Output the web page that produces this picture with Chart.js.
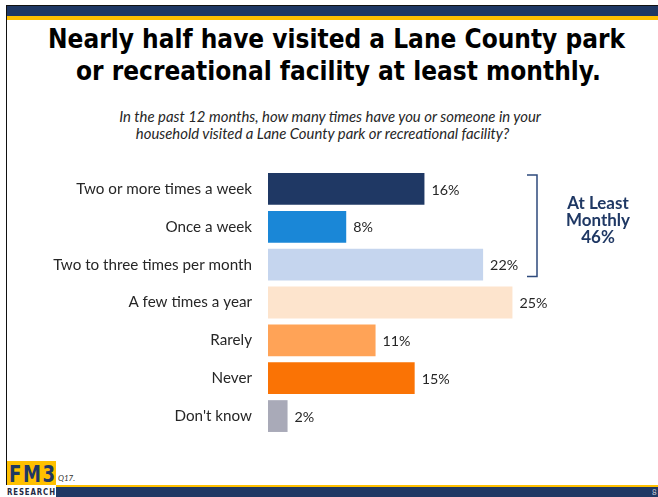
<!DOCTYPE html>
<html>
<head>
<meta charset="utf-8">
<script src="https://cdn.jsdelivr.net/npm/chart.js@4.4.1/dist/chart.umd.min.js"></script>
<style>
  body { margin: 0; background: #fff; }
  #slide { position: relative; width: 658px; height: 497px; overflow: hidden; background: #fff; }
  .box { position: absolute; }
  .txt { position: absolute; white-space: nowrap; line-height: 0; height: 0; transform-origin: 0 0; }
  #chartBox { position: absolute; left: 0; top: 150px; width: 658px; height: 300px; }
</style>
</head>
<body>
<div id="slide">
  <div class="box" style="left:6px;top:5px;width:652px;height:1px;background:#111"></div>
  <div class="box" style="left:7px;top:6px;width:651px;height:10px;background:#1F3864"></div>
  <div class="box" style="left:7px;top:16px;width:651px;height:4px;background:#FFC000"></div>
  <div class="box" style="left:6px;top:5px;width:1px;height:480px;background:#111"></div>

  <div class="txt" id="title1"></div>
  <div class="txt" id="title2"></div>
  <div class="txt" id="sub1"></div>
  <div class="txt" id="sub2"></div>

  <div id="chartBox"><canvas id="chart"></canvas></div>

  <div class="box" style="left:7px;top:461px;width:49px;height:24px;background:#FFC000"></div>
  <div class="txt" id="logo"></div>
  <div class="txt" id="research"></div>
  <div class="txt" id="qnum"></div>
  <div class="box" style="left:56px;top:485px;width:602px;height:2px;background:#FFC000"></div>
  <div class="box" style="left:56px;top:487px;width:602px;height:10px;background:#1F3864"></div>
  <div class="txt" id="pagenum"></div>
</div>
<script>
const TITLE_LINES = ['Nearly half have visited a Lane County park', 'or recreational facility at least monthly.'];
const QUESTION_LINES = ['In the past 12 months, how many times have you or someone in your',
  'household visited a Lane County park or recreational facility?'];
const CATEGORIES = ['Two or more times a week', 'Once a week', 'Two to three times per month',
  'A few times a year', 'Rarely', 'Never', "Don't know"];
const PERCENTS = [16, 8, 22, 25, 11, 15, 2];
const MONTHLY_ROWS = [0, 1, 2];
const MONTHLY_LINES = ['At Least', 'Monthly'];

const BAR_COLORS = ['#1F3864', '#1A87D7', '#C5D5EE', '#FDE4CD', '#FFA357', '#FA7305', '#A9AAB8'];
const NAVY = '#1F3864';
const TEXT = '#262626';
const BODY_FONT = 'Lato, "Open Sans", sans-serif';

const mctx = document.createElement('canvas').getContext('2d');
function measure(text, font) {
  mctx.font = font;
  return mctx.measureText(text);
}
// font size that makes text span the given width
function fitSize(text, prefix, family, width) {
  return 100 * width / measure(text, `${prefix} 100px ${family}`).width;
}
// put a text line so its baseline sits at y, centred on cx (or left at x0), optional horizontal squeeze
function placeText(id, text, font, opts) {
  const el = document.getElementById(id);
  el.textContent = text;
  el.style.font = font;
  el.style.lineHeight = '0';
  if (opts.color) el.style.color = opts.color;
  if (opts.spacing) el.style.letterSpacing = opts.spacing + 'px';
  const m = measure(text, font);
  const natural = m.width + (opts.spacing || 0) * (text.length - 1);
  const sx = opts.width ? opts.width / natural : (opts.scale || 1);
  const w = natural * sx;
  const left = opts.cx !== undefined ? opts.cx - w / 2 : opts.x0;
  el.style.left = left + 'px';
  el.style.top = (opts.baseline - (m.fontBoundingBoxAscent - m.fontBoundingBoxDescent) / 2) + 'px';
  el.style.transform = `scaleX(${sx})`;
}

// title, squeezed to the reference width
const titleFont = 'bold 26px "DejaVu Sans"';
const titleScale = 577 / measure(TITLE_LINES[0], titleFont).width;
placeText('title1', TITLE_LINES[0], titleFont, {cx: 336, baseline: 48, scale: titleScale, color: '#000'});
placeText('title2', TITLE_LINES[1], titleFont, {cx: 338, baseline: 80, scale: titleScale, color: '#000'});

const subSize = fitSize(QUESTION_LINES[0], 'italic', BODY_FONT, 424);
const subFont = `italic ${subSize}px ${BODY_FONT}`;
placeText('sub1', QUESTION_LINES[0], subFont, {cx: 331, baseline: 122, color: TEXT});
placeText('sub2', QUESTION_LINES[1], subFont, {cx: 323, baseline: 139, color: TEXT});

placeText('logo', 'FM3', 'bold 23px "DejaVu Sans"', {cx: 31.5, baseline: 482, color: NAVY, spacing: 2, width: 46});
placeText('research', 'RESEARCH', 'bold 8px "DejaVu Sans"', {cx: 31, baseline: 495.5, color: '#1F2A44', spacing: 1, width: 48});
placeText('qnum', 'Q17.', `italic 8px ${BODY_FONT}`, {x0: 58, baseline: 481, color: '#333'});
placeText('pagenum', '8', `8px ${BODY_FONT}`, {x0: 652, baseline: 495, color: '#C9CCD8'});

const labelSize = fitSize(CATEGORIES[2], '', BODY_FONT, 199);
const valueSize = fitSize('16%', '', BODY_FONT, 28);
const noteSize = fitSize(MONTHLY_LINES[1], 'bold', BODY_FONT, 64);

const valueLabels = {
  id: 'valueLabels',
  afterDatasetsDraw(chart) {
    const c = chart.ctx;
    const meta = chart.getDatasetMeta(0);
    c.save();
    c.font = `${valueSize}px ${BODY_FONT}`;
    c.fillStyle = TEXT;
    c.textAlign = 'left';
    c.textBaseline = 'middle';
    meta.data.forEach((bar, i) => {
      c.fillText(PERCENTS[i] + '%', bar.x + 7, bar.y + 1);
    });
    c.restore();
  }
};

const monthlyBracket = {
  id: 'monthlyBracket',
  afterDatasetsDraw(chart) {
    const c = chart.ctx;
    const bars = chart.getDatasetMeta(0).data;
    const first = bars[MONTHLY_ROWS[0]];
    const last = bars[MONTHLY_ROWS[MONTHLY_ROWS.length - 1]];
    const top = first.y - first.height / 2 + 2;
    const bottom = last.y + last.height / 2 - 4;
    const xr = 537, xl = 527;
    c.save();
    c.strokeStyle = '#2E4A7C';
    c.lineWidth = 1.5;
    c.beginPath();
    c.moveTo(xl, top);
    c.lineTo(xr, top);
    c.lineTo(xr, bottom);
    c.lineTo(xl, bottom);
    c.stroke();

    const total = MONTHLY_ROWS.reduce((s, i) => s + PERCENTS[i], 0);
    const lines = [...MONTHLY_LINES, total + '%'];
    const mid = (top + bottom) / 2;
    c.font = `bold ${noteSize}px ${BODY_FONT}`;
    c.fillStyle = NAVY;
    c.textAlign = 'center';
    c.textBaseline = 'alphabetic';
    lines.forEach((t, i) => c.fillText(t, 598, mid + (i - 1) * 17));
    c.restore();
  }
};

const ctx = document.getElementById('chart');
const chart = new Chart(ctx, {
  type: 'bar',
  data: {
    labels: CATEGORIES,
    datasets: [{
      data: PERCENTS,
      backgroundColor: BAR_COLORS,
      borderWidth: 0,
      barPercentage: 0.84,
      categoryPercentage: 1,
    }]
  },
  options: {
    indexAxis: 'y',
    responsive: true,
    maintainAspectRatio: false,
    animation: false,
    devicePixelRatio: 1,
    layout: {padding: {left: 0, right: 38, top: 20, bottom: 15}},
    plugins: {
      legend: {display: false},
      tooltip: {enabled: false},
    },
    scales: {
      x: {display: false, min: 0, max: 36},
      y: {
        afterFit(scale) {
          scale.width = 268;
          scale.paddingTop = 0;
          scale.paddingBottom = 0;
        },
        grid: {display: false, drawTicks: false},
        border: {display: false},
        ticks: {
          color: TEXT,
          font: {family: BODY_FONT, size: labelSize},
          padding: 16,
          autoSkip: false,
        }
      }
    }
  },
  plugins: [valueLabels, monthlyBracket]
});
</script>
</body>
</html>
